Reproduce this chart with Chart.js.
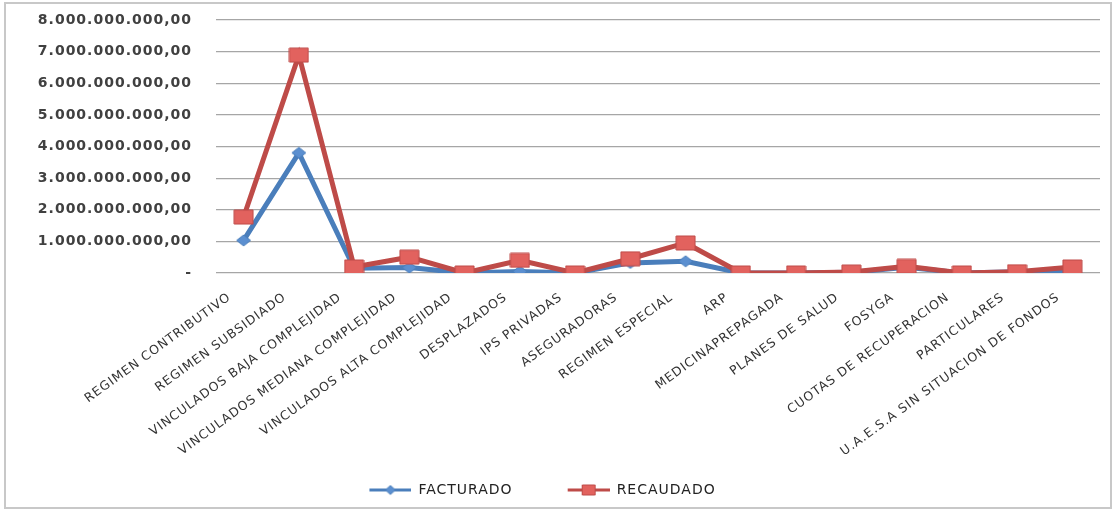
<!DOCTYPE html>
<html>
<head>
<meta charset="utf-8">
<script src="https://cdn.jsdelivr.net/npm/chart.js@4"></script>
<style>
    html, body { margin: 0; padding: 0; background: #fff; }
    #frame {
        position: absolute;
        left: 4px; top: 2px;
        width: 1104px; height: 503px;
        border: 2px solid #c8c8c8;
    }
    #chart { display: block; }
</style>
</head>
<body>
<div id="frame"><canvas id="chart" width="1104" height="503"></canvas></div>
<script>
const categories = [
    "REGIMEN CONTRIBUTIVO", "REGIMEN SUBSIDIADO", "VINCULADOS BAJA COMPLEJIDAD",
    "VINCULADOS MEDIANA COMPLEJIDAD", "VINCULADOS ALTA COMPLEJIDAD", "DESPLAZADOS",
    "IPS PRIVADAS", "ASEGURADORAS", "REGIMEN ESPECIAL", "ARP", "MEDICINAPREPAGADA",
    "PLANES DE SALUD", "FOSYGA", "CUOTAS DE RECUPERACION", "PARTICULARES",
    "U.A.E.S.A SIN SITUACION DE FONDOS"
];

const facturado = [
    1030000000, 3800000000, 150000000, 170000000, 0, 50000000,
    0, 320000000, 370000000, 0, 0,
    20000000, 180000000, 0, 40000000, 50000000
];

const recaudado = [
    1770000000, 6890000000, 190000000, 500000000, 0, 400000000,
    0, 450000000, 950000000, 0, 0,
    30000000, 210000000, 0, 40000000, 190000000
];

const C_BLUE = "#4a7ebb";
const C_BLUE_FILL = "#5b8fd0";
const C_RED = "#be4b48";
const C_RED_FILL = "#e2625e";

// thousands with dots, decimals with comma, zero shown as "-"
function formatPesos(v) {
    if (v === 0) return "-";
    const s = Math.round(v).toString().replace(/\B(?=(\d{3})+(?!\d))/g, ".");
    return s + ",00";
}

// markers a bit wider than tall, like the original; with lineLen it is a legend symbol
// (line drawn in the right part of a wider transparent box)
function marker(kind, w, h, lineLen, boxW) {
    const c = document.createElement("canvas");
    const W = boxW || w + 2;
    c.width = W; c.height = h + 2;
    const g = c.getContext("2d");
    const x0 = lineLen ? W - lineLen : 0;
    const cx = lineLen ? x0 + lineLen / 2 : W / 2, cy = (h + 2) / 2;
    const color = kind === "diamond" ? C_BLUE : C_RED;
    if (lineLen) {
        g.strokeStyle = color;
        g.lineWidth = 3;
        g.beginPath(); g.moveTo(x0, cy); g.lineTo(W, cy); g.stroke();
    }
    g.fillStyle = kind === "diamond" ? C_BLUE_FILL : C_RED_FILL;
    g.strokeStyle = color;
    g.lineWidth = 1;
    g.beginPath();
    if (kind === "diamond") {
        g.moveTo(cx, cy - h / 2); g.lineTo(cx + w / 2, cy);
        g.lineTo(cx, cy + h / 2); g.lineTo(cx - w / 2, cy);
    } else {
        g.rect(cx - w / 2, cy - h / 2, w, h);
    }
    g.closePath(); g.fill(); g.stroke();
    return c;
}

const LEGEND_BOX = 92;
const pointBlue = marker("diamond", 14, 11);
const pointRed = marker("square", 19, 14);
const symbols = [
    marker("diamond", 10, 9, 42, LEGEND_BOX),
    marker("square", 13, 10, 42, LEGEND_BOX)
];

// the original text is set wide
const spacing = {
    id: "spacing",
    beforeUpdate: (chart) => { chart.ctx.letterSpacing = "1px"; },
    beforeDraw: (chart) => { chart.ctx.letterSpacing = "1px"; }
};

new Chart(document.getElementById("chart"), {
    type: "line",
    data: {
        labels: categories,
        datasets: [
            {
                label: "FACTURADO",
                data: facturado,
                order: 2,
                borderColor: C_BLUE,
                backgroundColor: C_BLUE,
                borderWidth: 5,
                pointStyle: pointBlue,
                tension: 0
            },
            {
                label: "RECAUDADO",
                data: recaudado,
                order: 1,
                borderColor: C_RED,
                backgroundColor: C_RED_FILL,
                borderWidth: 5,
                pointStyle: pointRed,
                tension: 0
            }
        ]
    },
    options: {
        responsive: false,
        animation: false,
        layout: { padding: { top: 0, right: 10, left: 0, bottom: 0 } },
        scales: {
            x: {
                offset: true,
                grid: { display: false },
                border: { display: false },
                ticks: {
                    autoSkip: false,
                    minRotation: 36,
                    maxRotation: 36,
                    padding: 9,
                    labelOffset: -14,
                    color: "#333",
                    font: { family: "DejaVu Sans", size: 12.5 }
                },
                afterFit: (s) => { s.height = 205; }
            },
            y: {
                min: 0,
                max: 8000000000,
                border: { display: false },
                grid: { color: "#a6a6a6", lineWidth: 1.2, drawTicks: false },
                ticks: {
                    stepSize: 1000000000,
                    padding: 24,
                    color: "#404040",
                    font: { family: "DejaVu Sans", size: 14, weight: "bold" },
                    callback: (v) => formatPesos(Number(v))
                },
                afterFit: (s) => {
                    s.width = 210;
                    s.paddingTop = 16;
                    s.paddingBottom = 8;
                }
            }
        },
        plugins: {
            tooltip: { enabled: false },
            legend: {
                position: "bottom",
                labels: {
                    usePointStyle: true,
                    pointStyleWidth: LEGEND_BOX,
                    padding: 5,
                    color: "#222",
                    font: { family: "DejaVu Sans", size: 14 },
                    generateLabels: (chart) => {
                        const items = Chart.defaults.plugins.legend.labels.generateLabels(chart);
                        items.sort((a, b) => a.datasetIndex - b.datasetIndex);
                        items.forEach(it => { it.pointStyle = symbols[it.datasetIndex]; });
                        // the legend sits left of centre in the original
                        items[items.length - 1].text += "\u00a0".repeat(13);
                        return items;
                    }
                }
            }
        }
    },
    plugins: [spacing]
});
</script>
</body>
</html>
